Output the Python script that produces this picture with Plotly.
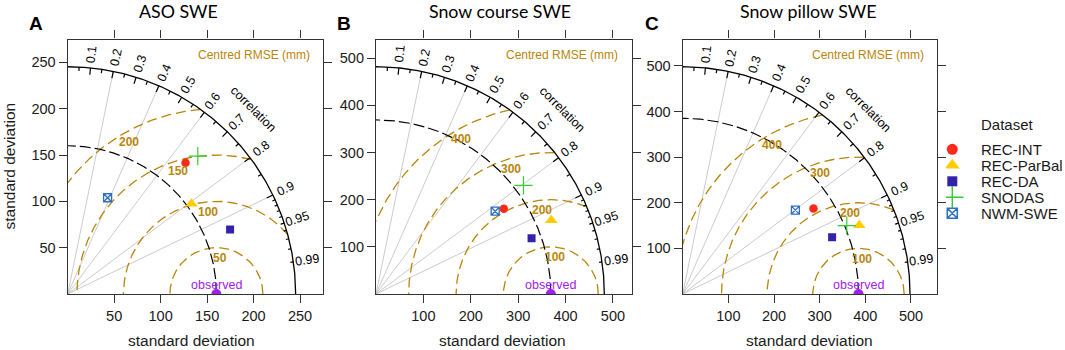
import numpy as np
import plotly.graph_objects as go

# ---------------- data ----------------
datasets = ["REC-INT", "REC-ParBal", "REC-DA", "SNODAS", "NWM-SWE"]
panel_titles = ["ASO SWE", "Snow course SWE", "Snow pillow SWE"]
panel_letters = ["A", "B", "C"]

obs_sd = [160, 369, 385]                       # observed standard deviation (mm)

sd_A = [190.1, 165.1, 188.1, 204.4, 112.4]     # model standard deviation, ASO
corr_A = [0.667, 0.807, 0.929, 0.685, 0.382]   # correlation, ASO
sd_B = [324.6, 401.5, 348.9, 387.1, 306.7]     # snow course
corr_B = [0.831, 0.921, 0.941, 0.804, 0.820]
sd_C = [342.3, 414.9, 350.0, 389.4, 307.8]     # snow pillow
corr_C = [0.837, 0.932, 0.935, 0.923, 0.802]

rms_A = [50, 100, 150, 200]                    # centred RMSE contours
rms_B = [100, 200, 300, 400]
rms_C = [100, 200, 300, 400]

tick_step = [50, 100, 100]

corr_grid = [0.2, 0.4, 0.6, 0.8, 0.9]
corr_labels = [0.1, 0.2, 0.3, 0.4, 0.5, 0.6, 0.7, 0.8, 0.9, 0.95, 0.99]

sds = [sd_A, sd_B, sd_C]
cors = [corr_A, corr_B, corr_C]
rmss = [rms_A, rms_B, rms_C]

# ---------------- styles ----------------
W, H = 1065, 350
FONT = "Liberation Sans, Arial, sans-serif"
GOLD = "#B8860B"
PURPLE = "#A020F0"
AX = "#333333"
box_px = [(67.7, 323.0), (376.0, 631.7), (682.7, 937.3)]
ytop_px, ybot_px = 39.5, 294.0
title_x = [178, 500, 808]
letter_x = [35.5, 343.5, 651.5]
xtitle_x = [191, 502.5, 809.5]
rms_lab_ang = [84, 96, 107.5, 120]

styles = {
    "REC-INT": dict(symbol="circle", color="#FF2A1A", size=8.5, lw=0),
    "REC-ParBal": dict(symbol="triangle-up", color="#FFCC00", size=11, lw=0),
    "REC-DA": dict(symbol="square", color="#3322AA", size=8, lw=0),
    "SNODAS": dict(symbol="cross-thin-open", color="#33CC33", size=13, lw=1.2),
    "NWM-SWE": dict(symbol="square-x-open", color="#2F6FBF", size=8, lw=1.3),
}

fig = go.Figure()
annotations = []


def px2paper_x(v):
    return v / W


def px2paper_y(v):
    return (H - v) / H


def ann(**kw):
    d = dict(showarrow=False, xanchor="center", yanchor="middle")
    d.update(kw)
    annotations.append(d)


for p in range(3):
    n = "" if p == 0 else str(p + 1)
    xr, yr = "x" + n, "y" + n
    sd = np.array(sds[p], dtype=float)
    cr = np.array(cors[p], dtype=float)
    so = obs_sd[p]
    maxsd = 1.2 * max(sd.max(), so)
    lim = 1.12 * maxsd

    # correlation grid lines
    gx, gy = [], []
    for c in corr_grid:
        gx += [0, maxsd * c, None]
        gy += [0, maxsd * np.sqrt(1 - c * c), None]
    fig.add_trace(go.Scatter(x=gx, y=gy, mode="lines", xaxis=xr, yaxis=yr,
                             line=dict(color="rgba(185,185,185,0.75)", width=1),
                             showlegend=False, hoverinfo="skip"))

    # centred RMSE arcs
    for i, g in enumerate(rmss[p]):
        cval = (maxsd ** 2 - so ** 2 - g ** 2) / (2 * so * g)
        t1 = 0.0 if cval >= 1 else np.arccos(max(cval, -1.0))
        t2 = np.arccos(-so / g) if g > so else np.pi
        t = np.linspace(t1, t2, 300)
        fig.add_trace(go.Scatter(x=so + g * np.cos(t), y=g * np.sin(t), mode="lines",
                                 xaxis=xr, yaxis=yr,
                                 line=dict(color=GOLD, width=1.3, dash="10px,5px"),
                                 showlegend=False, hoverinfo="skip"))
        a = np.radians(rms_lab_ang[i])
        rl = g - 0.045 * maxsd
        ann(x=so + rl * np.cos(a), y=rl * np.sin(a), xref=xr, yref=yr,
            text="<b>%d</b>" % g, font=dict(family=FONT, size=12, color=GOLD))

    # observed sd arc
    t = np.linspace(0, np.pi / 2, 300)
    fig.add_trace(go.Scatter(x=so * np.cos(t), y=so * np.sin(t), mode="lines",
                             xaxis=xr, yaxis=yr,
                             line=dict(color="black", width=1.2, dash="11px,4px"),
                             showlegend=False, hoverinfo="skip"))
    # outer arc
    fig.add_trace(go.Scatter(x=maxsd * np.cos(t), y=maxsd * np.sin(t), mode="lines",
                             xaxis=xr, yaxis=yr, line=dict(color="black", width=1.3),
                             showlegend=False, hoverinfo="skip"))
    # correlation ticks
    tx, ty = [], []
    for cs, inner in [(np.arange(0.1, 0.91, 0.1), 0.97),
                      (np.arange(0.05, 0.96, 0.1), 0.983),
                      (np.arange(0.91, 0.995, 0.01), 0.987)]:
        for c in cs:
            s = np.sqrt(1 - c * c)
            tx += [maxsd * c, inner * maxsd * c, None]
            ty += [maxsd * s, inner * maxsd * s, None]
    fig.add_trace(go.Scatter(x=tx, y=ty, mode="lines", xaxis=xr, yaxis=yr,
                             line=dict(color="black", width=1.2),
                             showlegend=False, hoverinfo="skip"))
    for c in corr_labels:
        ang = np.degrees(np.arccos(c))
        ann(x=1.06 * maxsd * c, y=1.06 * maxsd * np.sqrt(1 - c * c), xref=xr, yref=yr,
            text=("%g" % c), textangle=-ang, font=dict(family=FONT, size=12.5, color="black"))
    ann(x=1.15 * maxsd * np.cos(np.pi / 4), y=1.15 * maxsd * np.sin(np.pi / 4),
        xref=xr, yref=yr, text="correlation", textangle=45,
        font=dict(family=FONT, size=12.5, color="black"))
    ann(x=1.07 * maxsd, y=1.05 * maxsd, xref=xr, yref=yr, xanchor="right",
        text="Centred RMSE (mm)", font=dict(family=FONT, size=12, color=GOLD))

    # observed point
    fig.add_trace(go.Scatter(x=[so], y=[0], mode="markers", xaxis=xr, yaxis=yr,
                             marker=dict(color=PURPLE, size=10), showlegend=False,
                             hoverinfo="skip"))
    ann(x=so, y=0.04 * maxsd, xref=xr, yref=yr, text="observed",
        font=dict(family=FONT, size=12.5, color=PURPLE))

    # model points
    for k, name in enumerate(datasets):
        st = styles[name]
        fig.add_trace(go.Scatter(
            x=[sd[k] * cr[k]], y=[sd[k] * np.sqrt(1 - cr[k] ** 2)], mode="markers",
            xaxis=xr, yaxis=yr, name=name, showlegend=False,
            marker=dict(symbol=st["symbol"], color=st["color"], size=st["size"],
                        line=dict(width=st["lw"], color=st["color"]))))

    step = tick_step[p]
    tv = [float(v) for v in np.arange(step, lim, step)]
    x0, x1 = box_px[p]
    axcommon = dict(showline=True, linecolor=AX, linewidth=1.2, mirror="ticks", ticks="outside",
                    ticklen=8, tickcolor=AX, tickwidth=1, showgrid=False, zeroline=False,
                    range=[0, lim], tickvals=tv, ticktext=["%d" % v for v in tv],
                    tickfont=dict(family=FONT, size=14.5, color="#1a1a1a"))
    fig.layout["xaxis" + n] = dict(domain=[px2paper_x(x0), px2paper_x(x1)], anchor=yr, **axcommon)
    fig.layout["yaxis" + n] = dict(domain=[px2paper_y(ybot_px), px2paper_y(ytop_px)], anchor=xr,
                                   **axcommon)

    # titles
    ann(x=px2paper_x(title_x[p]), y=px2paper_y(11), xref="paper", yref="paper",
        text=panel_titles[p], font=dict(family="Lato, Open Sans, sans-serif", size=17.8,
                                        color="black"))
    ann(x=px2paper_x(letter_x[p]), y=px2paper_y(23.5), xref="paper", yref="paper",
        text="<b>%s</b>" % panel_letters[p], font=dict(family=FONT, size=19, color="black"))
    ann(x=px2paper_x(xtitle_x[p]), y=px2paper_y(340), xref="paper", yref="paper",
        text="standard deviation", font=dict(family=FONT, size=15.5, color="#1a1a1a"))

ann(x=px2paper_x(9), y=px2paper_y(166.5), xref="paper", yref="paper",
    text="standard deviation", textangle=-90, font=dict(family=FONT, size=15.5, color="#1a1a1a"))

# ---------------- legend (drawn manually in its own small axis) ----------------
LX0 = 946.0
leg_y0, leg_dy = 149.3, 16.0
for k, name in enumerate(datasets):
    st = styles[name]
    big = {"circle": 11, "triangle-up": 13, "square": 10, "cross-thin-open": 16,
           "square-x-open": 10}[st["symbol"]]
    fig.add_trace(go.Scatter(x=[952.3], y=[leg_y0 + k * leg_dy], mode="markers",
                             xaxis="x4", yaxis="y4", showlegend=False, hoverinfo="skip",
                             marker=dict(symbol=st["symbol"], color=st["color"], size=big,
                                         line=dict(width=st["lw"] * 1.2, color=st["color"]))))
    ann(x=px2paper_x(979), y=px2paper_y(leg_y0 + k * leg_dy), xref="paper", yref="paper",
        xanchor="left", text=name, font=dict(family=FONT, size=15, color="#1a1a1a"))
ann(x=px2paper_x(979), y=px2paper_y(125), xref="paper", yref="paper", xanchor="left",
    text="Dataset", font=dict(family=FONT, size=15, color="#1a1a1a"))

fig.layout["xaxis4"] = dict(domain=[LX0 / W, 1], range=[LX0, W], visible=False, anchor="y4",
                            showgrid=False, zeroline=False)
fig.layout["yaxis4"] = dict(domain=[0, 1], range=[H, 0], visible=False, anchor="x4",
                            showgrid=False, zeroline=False)

fig.update_layout(width=W, height=H, margin=dict(l=0, r=0, t=0, b=0),
                  paper_bgcolor="white", plot_bgcolor="rgba(0,0,0,0)", showlegend=False,
                  hovermode=False, annotations=annotations)

fig.write_html("out.html", config={"displayModeBar": False},
               post_script="document.body.style.margin='0px';document.body.style.overflow='hidden';")
